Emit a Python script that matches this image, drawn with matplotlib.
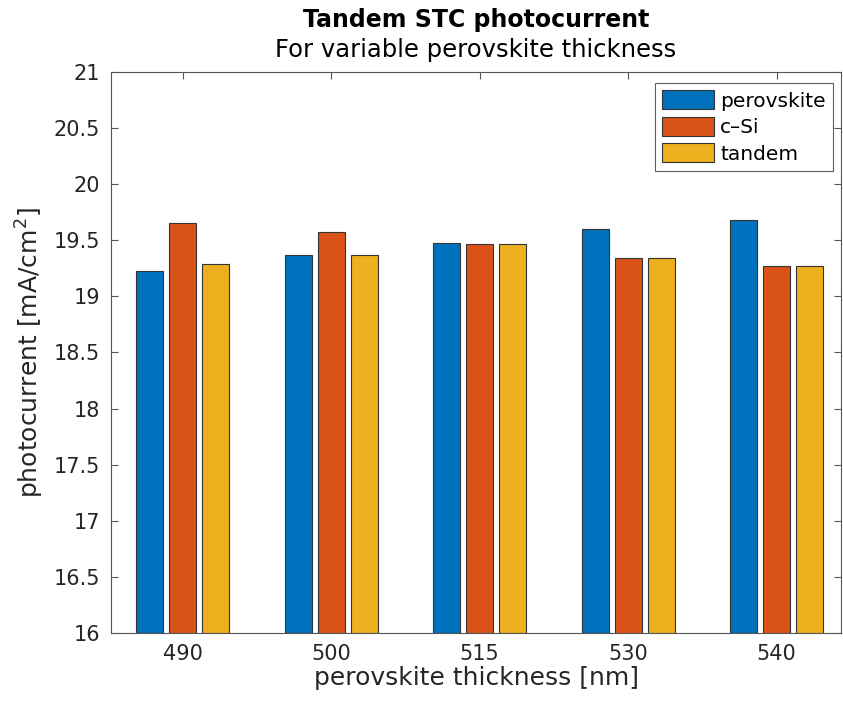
import numpy as np
import matplotlib.pyplot as plt

# photocurrent per sub-cell
thickness = ['490', '500', '515', '530', '540']
perovskite = [19.23, 19.37, 19.48, 19.60, 19.68]
csi = [19.65, 19.57, 19.47, 19.34, 19.27]
tandem = [19.29, 19.37, 19.47, 19.34, 19.27]

series = [('perovskite', perovskite, '#0072BD'),
          ('c\u2013Si', csi, '#D95319'),
          ('tandem', tandem, '#EDB120')]

axcol = '#262626'
plt.rcParams['font.family'] = 'DejaVu Sans'

fig = plt.figure(figsize=(8.43, 7.07), dpi=100)
ax = fig.add_axes([111/843, 1 - 633/707, 730/843, (633 - 72)/707])

x = np.arange(1, len(thickness) + 1)
w = 0.18
step = 0.222
for i, (name, vals, col) in enumerate(series):
    ax.bar(x + (i - 1)*step, np.array(vals) - 16, bottom=16, width=w,
           color=col, edgecolor='#333333', linewidth=0.8, label=name, zorder=2)

ax.set_xlim(0.517, 5.433)
ax.set_ylim(16, 21)
ax.set_xticks(x)
ax.set_xticklabels(thickness)
ax.set_yticks(np.arange(16, 21.01, 0.5))
ax.set_yticklabels(['16', '16.5', '17', '17.5', '18', '18.5', '19', '19.5', '20', '20.5', '21'])

ax.tick_params(direction='in', length=5, width=0.8, colors='#555555',
               labelcolor=axcol, labelsize=15, top=True, right=True, pad=8)
for s in ax.spines.values():
    s.set_color('#555555')
    s.set_linewidth(0.8)

ax.set_xlabel('perovskite thickness [nm]', fontsize=18, color=axcol, labelpad=1)
ax.set_ylabel('photocurrent [mA/cm$^2$]', fontsize=18, color=axcol, labelpad=5)

fig.text(476/843, 1 - 20/707, 'Tandem STC photocurrent', ha='center', va='center',
         fontsize=17, fontweight='bold', color='black')
fig.text(476/843, 1 - 50/707, 'For variable perovskite thickness', ha='center', va='center',
         fontsize=17.5, color='black')

leg = ax.legend(loc='upper right', bbox_to_anchor=(833/843, 1 - 83/707),
                bbox_transform=fig.transFigure, fontsize=14.5, frameon=True,
                fancybox=False, edgecolor='#333333', handlelength=2.6,
                handleheight=1.1, handletextpad=0.3, labelspacing=0.3,
                borderpad=0.35, borderaxespad=0)
leg.get_frame().set_linewidth(0.8)

fig.savefig('out.png', dpi=100)
